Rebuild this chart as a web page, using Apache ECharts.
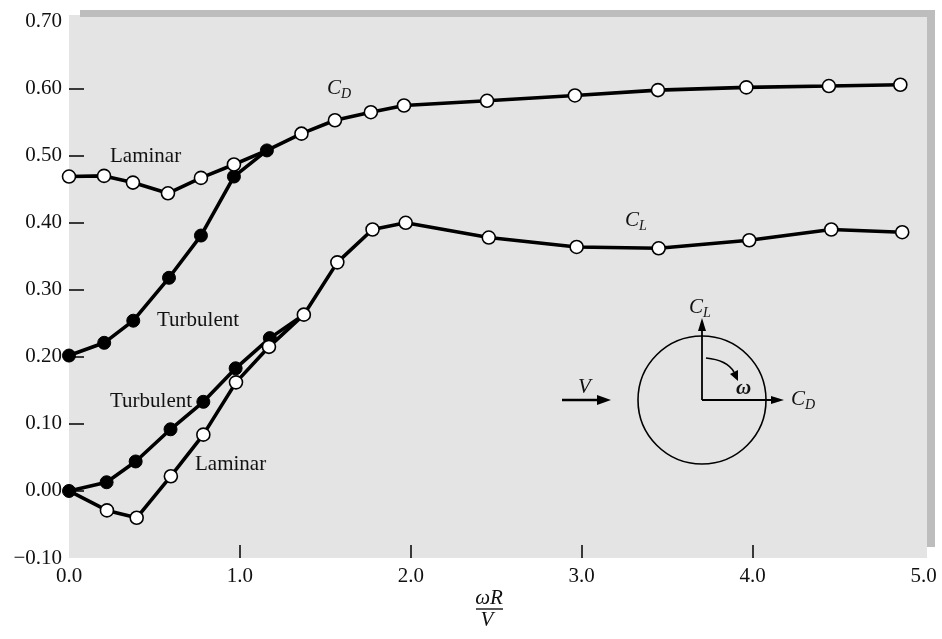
<!DOCTYPE html>
<html>
<head>
<meta charset="utf-8">
<script src="https://cdn.jsdelivr.net/npm/echarts@6/dist/echarts.min.js"></script>
<style>
html,body{margin:0;padding:0;background:#fff;}
#chart{width:942px;height:639px;}
</style>
</head>
<body>
<div id="chart"></div>
<script>
// ---- data ----
const cdLamX   = [0, 0.205, 0.374, 0.579, 0.772, 0.965];
const cdLamY   = [0.469, 0.470, 0.460, 0.444, 0.467, 0.487];
const cdTurbX  = [0, 0.206, 0.376, 0.585, 0.772, 0.965, 1.158];
const cdTurbY  = [0.202, 0.221, 0.254, 0.318, 0.381, 0.469, 0.508];
const cdComX   = [1.36, 1.556, 1.766, 1.96, 2.446, 2.96, 3.446, 3.963, 4.446, 4.864];
const cdComY   = [0.533, 0.553, 0.565, 0.575, 0.582, 0.590, 0.598, 0.602, 0.604, 0.606];

const clTurbX  = [0, 0.22, 0.39, 0.594, 0.786, 0.975, 1.175];
const clTurbY  = [0.0, 0.013, 0.044, 0.092, 0.133, 0.183, 0.228];
const clLamX   = [0.222, 0.396, 0.596, 0.786, 0.977, 1.17];
const clLamY   = [-0.029, -0.040, 0.022, 0.084, 0.162, 0.215];
const clComX   = [1.374, 1.57, 1.776, 1.97, 2.456, 2.97, 3.45, 3.98, 4.46, 4.875];
const clComY   = [0.263, 0.341, 0.390, 0.400, 0.378, 0.364, 0.362, 0.374, 0.390, 0.386];

const xTickLabels = [0, 1, 2, 3, 4, 5];
const yTickLabels = [-0.1, 0, 0.1, 0.2, 0.3, 0.4, 0.5, 0.6, 0.7];
const xTicks = [1, 2, 3, 4];
const yTicks = [0, 0.1, 0.2, 0.3, 0.4, 0.5, 0.6];

// ---- helpers ----
const SERIF = '"Liberation Serif", "DejaVu Serif", serif';
function pts(xs, ys) { return xs.map((x, i) => [x, ys[i]]); }
function hidden(p) { return { value: p, symbol: 'none' }; }

const openStyle = { color: '#ffffff', borderColor: '#000', borderWidth: 1.6 };
const fillStyle = { color: '#000', borderColor: '#000', borderWidth: 1 };
function lineSeries(name, data, filled) {
  return {
    name, type: 'line', data, symbol: 'circle', symbolSize: 13,
    showAllSymbol: true, silent: true, animation: false,
    lineStyle: { color: '#000', width: 3.6 },
    itemStyle: filled ? fillStyle : openStyle,
    emphasis: { disabled: true }
  };
}

const cdTurb = pts(cdTurbX, cdTurbY);
const cdLam = pts(cdLamX, cdLamY);
const cdCom = pts(cdComX, cdComY);
const clTurb = pts(clTurbX, clTurbY);
const clLam = pts(clLamX, clLamY);
const clCom = pts(clComX, clComY);

const series = [
  lineSeries('CD turbulent', cdTurb, true),
  lineSeries('CL turbulent', clTurb.concat([hidden(clCom[0])]), true),
  lineSeries('CD laminar', cdLam.concat([hidden(cdTurb[cdTurb.length - 1])]), false),
  lineSeries('CL laminar', [hidden(clTurb[0])].concat(clLam, [hidden(clCom[0])]), false),
  lineSeries('CD', [hidden(cdTurb[cdTurb.length - 1])].concat(cdCom), false),
  lineSeries('CL', clCom, false)
];

const FS = 21;
const txt = (x, y, text, extra) => ({
  type: 'text', x, y, z: 20,
  style: Object.assign({ text, font: FS + 'px ' + SERIF, fill: '#111', textVerticalAlign: 'middle' }, extra || {})
});

function subLabel(x, y, main, sub) {
  return {
    type: 'text', x, y, z: 20,
    style: {
      text: '{c|' + main + '}{s|' + sub + '}',
      rich: {
        c: { fontFamily: SERIF, fontStyle: 'italic', fontSize: 21, lineHeight: 23, verticalAlign: 'top', fill: '#111', color: '#111' },
        s: { fontFamily: SERIF, fontStyle: 'italic', fontSize: 14, lineHeight: 14, verticalAlign: 'bottom', fill: '#111', color: '#111' }
      }
    }
  };
}

const graphics = [
  // darker frame bands of the shaded plot area
  { type: 'rect', z: 1, shape: { x: 80, y: 10, width: 855, height: 7 }, style: { fill: '#bdbdbd' } },
  { type: 'rect', z: 1, shape: { x: 927, y: 10, width: 8, height: 537 }, style: { fill: '#bdbdbd' } },
  // curve labels
  txt(110, 156, 'Laminar'),
  txt(157, 320, 'Turbulent'),
  txt(110, 401, 'Turbulent'),
  txt(195, 464, 'Laminar'),
  subLabel(327, 78, 'C', 'D'),
  subLabel(625, 210, 'C', 'L'),
  // flow diagram
  { type: 'circle', z: 20, shape: { cx: 702, cy: 400, r: 64 }, style: { fill: 'none', stroke: '#000', lineWidth: 1.6 } },
  { type: 'line', z: 20, shape: { x1: 702, y1: 400, x2: 702, y2: 328 }, style: { stroke: '#000', lineWidth: 1.8 } },
  { type: 'polygon', z: 20, shape: { points: [[702, 318], [698, 331], [706, 331]] }, style: { fill: '#000' } },
  { type: 'line', z: 20, shape: { x1: 702, y1: 400, x2: 774, y2: 400 }, style: { stroke: '#000', lineWidth: 1.8 } },
  { type: 'polygon', z: 20, shape: { points: [[784, 400], [771, 396], [771, 404]] }, style: { fill: '#000' } },
  { type: 'bezierCurve', z: 20, shape: { x1: 706, y1: 358, cpx1: 727, cpy1: 360, x2: 734, y2: 372 }, style: { fill: 'none', stroke: '#000', lineWidth: 1.6 } },
  { type: 'polygon', z: 20, shape: { points: [[738, 381], [730, 374], [738, 370]] }, style: { fill: '#000' } },
  { type: 'line', z: 20, shape: { x1: 562, y1: 400, x2: 600, y2: 400 }, style: { stroke: '#000', lineWidth: 2.6 } },
  { type: 'polygon', z: 20, shape: { points: [[611, 400], [597, 395], [597, 405]] }, style: { fill: '#000' } },
  txt(578, 387, 'V', { font: 'italic 21px ' + SERIF }),
  txt(736, 389, 'ω', { font: 'italic bold 21px ' + SERIF }),
  subLabel(689, 297, 'C', 'L'),
  subLabel(791, 389, 'C', 'D'),
  // x-axis title as a fraction
  { type: 'text', z: 20, x: 489, y: 598, style: { text: 'ωR', font: 'italic 21px ' + SERIF, fill: '#111', textAlign: 'center', textVerticalAlign: 'middle' } },
  { type: 'line', z: 20, shape: { x1: 476, y1: 609, x2: 503, y2: 609 }, style: { stroke: '#000', lineWidth: 1.3 } },
  { type: 'text', z: 20, x: 487, y: 620, style: { text: 'V', font: 'italic 21px ' + SERIF, fill: '#111', textAlign: 'center', textVerticalAlign: 'middle' } }
];

const chart = echarts.init(document.getElementById('chart'), null, { renderer: 'canvas' });
chart.setOption({
  animation: false,
  backgroundColor: '#ffffff',
  grid: { left: 69, right: 15, top: 15, bottom: 81, show: true, backgroundColor: '#e4e4e4', borderWidth: 0 },
  xAxis: {
    type: 'value', min: 0, max: 5.02,
    axisLine: { show: false, onZero: false },
    splitLine: { show: false },
    axisTick: { show: true, inside: true, length: 13, customValues: xTicks, lineStyle: { color: '#000', width: 1.5 } },
    axisLabel: { customValues: xTickLabels, margin: 8, fontFamily: SERIF, fontSize: FS, color: '#111',
      formatter: v => v.toFixed(1) }
  },
  yAxis: {
    type: 'value', min: -0.1, max: 0.71,
    axisLine: { show: false, onZero: false },
    splitLine: { show: false },
    axisTick: { show: true, inside: true, length: 15, customValues: yTicks, lineStyle: { color: '#000', width: 1.5 } },
    axisLabel: { customValues: yTickLabels, margin: 7, fontFamily: SERIF, fontSize: FS, color: '#111',
      formatter: v => (v < 0 ? '\u2212' : '') + Math.abs(v).toFixed(2) }
  },
  graphic: graphics,
  series
});
</script>
</body>
</html>
